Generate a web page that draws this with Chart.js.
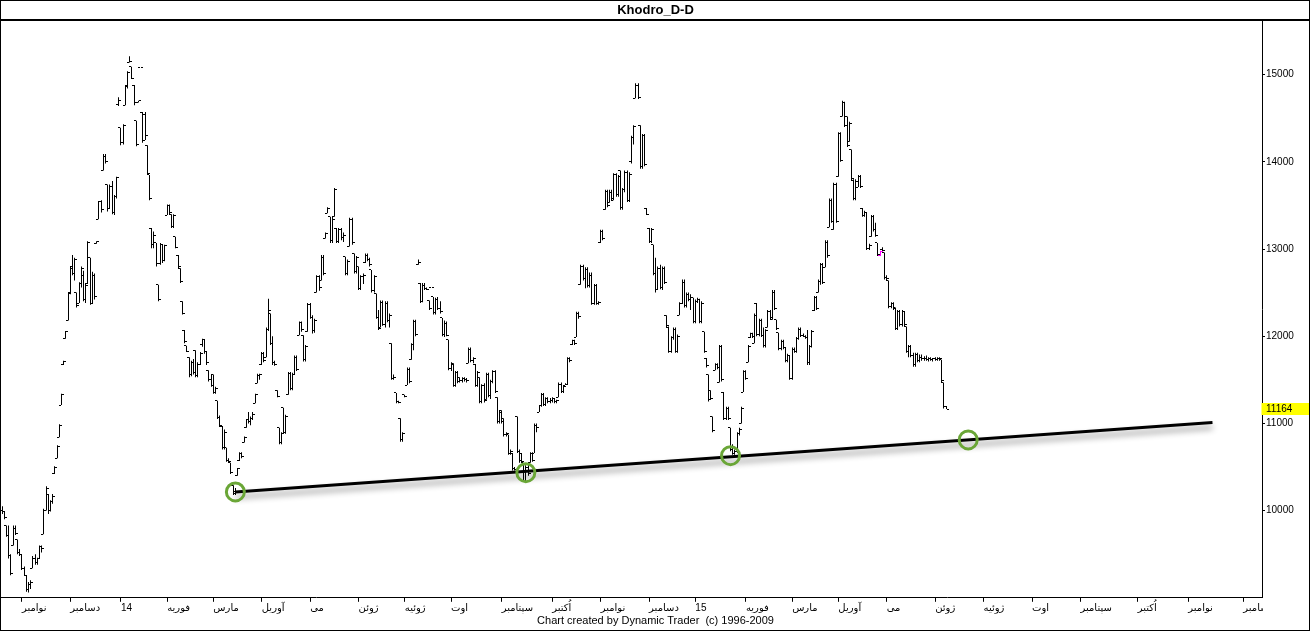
<!DOCTYPE html>
<html>
<head>
<meta charset="utf-8">
<title>Khodro_D-D</title>
<script src="https://cdn.jsdelivr.net/npm/chart.js@4.4.1/dist/chart.umd.min.js"></script>
<style>
    html, body { margin: 0; padding: 0; background: #fff; }
    #wrap { width: 1310px; height: 631px; position: relative; }
</style>
</head>
<body>
<div id="wrap"><canvas id="chart"></canvas></div>
<script>
// Daily bars, Khodro (one value per trading day, index 0 = first bar)
const openPrices = [
    10000,9990,9830,9720,9480,9600,9800,9670,9520,9500,
    9340,9260,9100,9150,9340,9450,9400,9450,9590,9730,
    10000,10190,10000,10100,10420,10600,10840,11210,11670,11970,
    12180,12500,12800,12720,12500,12380,12600,12700,12420,12600,
    12900,12380,12700,13060,13340,13540,13900,14060,13740,13460,
    13720,13420,13600,14660,14390,14220,14650,14870,15140,15090,
    14880,14470,14680,15080,14570,14540,14190,13850,13240,13050,
    13070,12590,12830,13050,12870,13390,13500,13400,13260,13140,
    12930,12780,12400,12070,11890,11760,11560,11700,11840,11550,
    11680,11900,11960,11820,11610,11500,11560,11360,11260,11070,
    10970,10720,10720,10580,10550,10290,10220,10400,10570,10660,
    10780,10950,11040,11020,11060,11230,11460,11550,11670,11800,
    11760,12080,12260,11920,11700,11380,10950,10780,11180,10900,
    11330,11570,11400,11560,11760,12010,12160,12010,11730,12050,
    12360,12220,12060,12500,12680,12640,12900,13120,13410,13370,
    13100,13370,13240,13090,13220,13130,12910,12720,13030,13340,
    12950,12740,12800,12550,12680,12840,12930,12880,12760,12520,
    12490,12220,12100,12390,12140,12380,12180,11920,11520,11350,
    11250,11060,10810,11330,11440,11620,11730,11900,12170,12820,
    12610,12400,12580,12550,12410,12560,12450,12270,12420,12320,
    12210,12020,12150,11960,11630,11690,11440,11580,11530,11490,
    11510,11500,11690,11850,11720,11680,11440,11530,11250,11430,
    11270,11560,11320,11480,11600,11300,11020,11150,11060,10870,
    10870,10660,10660,10480,11080,10680,10660,10550,10350,10500,
    10550,10650,10660,10980,11130,11200,11330,11220,11280,11250,
    11260,11280,11250,11300,11450,11370,11440,11450,11740,11900,
    11950,11990,12260,12590,12800,12660,12770,12580,12700,12380,
    12580,12380,13070,13200,13450,13660,13530,13650,13560,13850,
    13620,13900,13480,13680,13880,13560,14000,14280,14730,14880,
    14420,13950,14300,13470,13240,13090,13050,12720,12530,12780,
    12560,12780,12240,12100,11830,11980,12080,11830,12240,12380,
    12620,12350,12480,12420,12440,12170,12400,12420,12170,12050,
    11750,11560,11380,11080,11610,11670,11470,11880,11360,11060,
    11170,10950,10700,10660,10680,10880,11000,11360,11590,11700,
    11980,12030,11920,12380,12020,12180,12010,11890,12100,12280,
    12190,12500,12190,12040,11860,11940,11870,11720,11780,11520,
    11850,11830,11970,12080,12010,12000,11990,11700,11880,12290,
    12440,12500,12630,12820,12790,13080,13250,13560,13220,13740,
    13830,14320,14520,14680,14520,14230,14140,13790,13580,13710,
    13830,13470,13390,13420,13010,13140,13370,13220,13070,12930,
    13000,12960,12670,12640,12340,12380,12330,12090,12280,12130,
    12280,12110,11830,11880,11780,11670,11790,11720,11760,11740,
    11750,11730,11740,11730,11740,11730,11750,11730,11470,11190
];
const highPrices = [
    10050,9990,9830,9830,9500,9830,9830,9670,9560,9500,
    9360,9260,9180,9200,9480,9500,9460,9600,9600,10020,
    10280,10190,10120,10190,10510,10750,10990,11340,11720,12060,
    12500,12800,12930,12900,12500,12620,12800,12750,12600,13090,
    12900,12740,12720,13090,13550,13560,14090,14090,13740,13740,
    13780,13620,13830,14740,14390,14430,14870,15040,15210,15090,
    14880,14470,14700,15080,14570,14570,14190,13850,13240,13200,
    13070,12590,13070,13050,13050,13510,13510,13400,13400,13140,
    12930,12780,12400,12070,11890,11760,11720,11740,11840,11700,
    11820,11970,11960,11830,11610,11560,11560,11420,11260,11090,
    10970,10930,10720,10600,10550,10290,10260,10490,10670,10670,
    10850,11050,11130,11080,11130,11340,11570,11570,11820,11820,
    12100,12430,12260,12000,11720,11380,10950,10900,11180,11100,
    11590,11590,11580,11780,11780,12170,12170,12010,11900,12380,
    12380,12240,12200,12700,12700,12930,12930,13190,13480,13370,
    13370,13700,13240,13240,13240,13190,12910,12880,13360,13360,
    12950,12920,12800,12700,12720,12950,12950,12900,12760,12700,
    12490,12300,12410,12410,12400,12400,12260,11920,11560,11350,
    11260,11060,10900,11330,11640,11640,11920,12190,12190,12880,
    12610,12610,12610,12560,12410,12560,12450,12440,12450,12400,
    12210,12180,12170,11960,11700,11690,11600,11600,11530,11530,
    11530,11520,11870,11870,11760,11680,11600,11530,11450,11460,
    11580,11580,11500,11610,11610,11300,11150,11150,11060,10900,
    10870,10700,10660,10500,11080,10700,10660,10550,10520,10550,
    10670,10670,11000,11000,11210,11350,11350,11300,11300,11290,
    11300,11280,11270,11470,11470,11440,11460,11760,11760,11960,
    11960,12280,12280,12820,12820,12790,12790,12730,12730,12600,
    12600,12400,13220,13220,13680,13680,13680,13680,13870,13870,
    13850,13900,13700,13900,13900,13880,14300,14420,14900,14900,
    14420,14320,14320,13470,13240,13240,13050,12900,12800,12820,
    12800,12800,12240,12110,12000,12100,12100,12020,12390,12650,
    12650,12500,12500,12480,12440,12420,12440,12430,12400,12050,
    11750,11560,11380,11080,11690,11690,11900,11900,11360,11190,
    11190,10950,10760,10700,10900,10950,11190,11610,11610,11900,
    12040,12040,12260,12380,12200,12200,12100,12080,12300,12300,
    12530,12530,12190,12040,11960,11960,11870,11800,11780,11870,
    11870,11990,12100,12100,12030,12010,12070,11900,12070,12460,
    12460,12650,12840,12840,13100,13100,13580,13580,13760,13760,
    14340,14340,14700,14690,14520,14460,14140,13800,13800,13850,
    13850,13470,13440,13420,13060,13390,13390,13300,13070,12980,
    13020,12960,12700,12640,12390,12390,12330,12300,12300,12300,
    12290,12110,11900,11900,11810,11810,11810,11790,11790,11770,
    11780,11760,11760,11750,11760,11760,11760,11730,11470,11200
];
const lowPrices = [
    9960,9900,9700,9450,9260,9600,9720,9500,9480,9320,
    9250,9070,9060,9100,9340,9380,9380,9450,9520,9730,
    10000,9960,9990,10080,10420,10600,10840,11210,11670,11970,
    12180,12480,12700,12640,12330,12380,12560,12400,12380,12600,
    12360,12380,12420,13060,13340,13420,13900,13980,13430,13460,
    13400,13390,13580,14640,14190,14200,14650,14840,15140,14950,
    14650,14180,14680,15080,14220,14250,13850,13560,13010,13010,
    12800,12400,12820,12840,12860,13390,13400,13240,13240,13010,
    12780,12610,12250,11920,11820,11530,11540,11560,11530,11530,
    11670,11880,11800,11670,11480,11420,11340,11340,11050,10960,
    10700,10700,10560,10550,10420,10180,10180,10400,10570,10600,
    10780,10950,11000,10980,11040,11230,11460,11500,11670,11700,
    11760,12060,11900,11670,11660,11300,10760,10760,10880,10880,
    11330,11380,11380,11560,11600,12010,12050,11710,11710,12050,
    12200,12030,12040,12500,12520,12640,12700,13120,13410,13070,
    13070,13370,13070,13070,13100,13080,12700,12700,13030,13050,
    12720,12720,12530,12530,12600,12840,12860,12800,12500,12500,
    12200,12070,12100,12120,12100,12160,12100,11500,11500,11230,
    11230,10790,10790,11300,11440,11460,11730,11840,12000,12820,
    12380,12390,12530,12530,12300,12560,12250,12250,12300,12260,
    12000,11990,12000,11610,11600,11420,11420,11460,11470,11470,
    11480,11470,11690,11700,11690,11420,11420,11230,11230,11240,
    11270,11300,11280,11460,11350,11000,11000,11000,10850,10850,
    10640,10640,10460,10460,10660,10550,10550,10330,10330,10400,
    10550,10560,10660,10900,11130,11190,11200,11200,11230,11230,
    11240,11230,11230,11300,11350,11350,11440,11440,11700,11900,
    11900,11990,12200,12590,12640,12550,12560,12560,12360,12360,
    12360,12360,13070,13100,13450,13480,13530,13560,13560,13600,
    13600,13450,13450,13650,13540,13540,13980,14200,14730,14720,
    13920,13920,13950,13390,13070,13070,12700,12500,12530,12540,
    12530,12600,12100,11810,11810,11960,11810,11810,12240,12370,
    12330,12330,12400,12300,12150,12150,12380,12150,12150,11810,
    11640,11250,11270,10900,11610,11620,11470,11480,11040,11040,
    11040,10680,10640,10640,10660,10860,11000,11360,11500,11700,
    11980,11980,11920,12000,12000,11990,11870,11870,12100,12190,
    12190,12300,12070,11840,11840,11850,11700,11700,11500,11500,
    11810,11810,11960,11990,11990,11970,11670,11670,11870,12290,
    12300,12500,12590,12600,12790,12900,13250,13300,13220,13300,
    13830,14000,14520,14400,14170,14230,13790,13560,13560,13710,
    13700,13370,13370,12990,12990,13140,13200,13140,12920,12920,
    12960,12650,12640,12320,12320,12300,12070,12070,12110,12110,
    12110,11810,11760,11760,11650,11650,11700,11700,11720,11720,
    11720,11710,11720,11710,11720,11720,11720,11470,11170,11164
];
const closePrices = [
    9990,9920,9720,9480,9280,9800,9740,9520,9500,9340,
    9260,9100,9150,9180,9450,9400,9450,9590,9560,10000,
    10250,10000,10100,10160,10500,10740,10980,11330,11710,12050,
    12490,12780,12720,12880,12350,12600,12780,12420,12580,13080,
    12380,12700,12450,13090,13540,13450,14060,14000,13460,13720,
    13420,13600,13820,14700,14220,14420,14860,15020,15150,14960,
    14680,14200,14700,15080,14240,14300,13870,13580,13050,13150,
    12830,12420,13050,12870,13040,13500,13420,13260,13380,13020,
    12800,12630,12260,11940,11830,11560,11700,11580,11550,11680,
    11800,11960,11820,11700,11500,11440,11360,11400,11070,10980,
    10720,10900,10580,10560,10440,10200,10210,10480,10660,10620,
    10840,11040,11020,11060,11100,11330,11550,11560,11800,11720,
    12080,12300,11920,11700,11680,11310,10780,10880,10900,11080,
    11570,11400,11560,11760,11620,12160,12080,11730,11880,12360,
    12220,12060,12180,12680,12560,12900,12720,13180,13470,13100,
    13340,13680,13090,13220,13130,13160,12720,12860,13340,13070,
    12740,12900,12550,12680,12700,12930,12880,12820,12520,12680,
    12220,12090,12390,12140,12380,12180,12240,11520,11530,11250,
    11240,10810,10880,11310,11620,11480,11900,12170,12020,12840,
    12400,12580,12550,12540,12320,12560,12270,12420,12320,12280,
    12020,12150,12010,11630,11680,11440,11580,11480,11490,11510,
    11500,11490,11850,11720,11740,11440,11580,11250,11430,11260,
    11560,11320,11480,11600,11370,11020,11130,11020,10870,10880,
    10660,10680,10480,10470,10680,10570,10560,10350,10500,10420,
    10650,10580,10980,10950,11200,11330,11220,11280,11250,11260,
    11280,11250,11260,11450,11370,11420,11450,11740,11720,11950,
    11920,12260,12230,12800,12660,12770,12580,12700,12380,12580,
    12380,12390,13200,13120,13660,13500,13650,13580,13850,13620,
    13830,13480,13680,13880,13560,13860,14280,14400,14880,14740,
    13950,14300,13970,13400,13090,13220,12720,12530,12780,12560,
    12780,12620,12120,11830,11980,12080,11830,12000,12380,12620,
    12350,12480,12420,12440,12170,12400,12420,12170,12380,11830,
    11660,11270,11290,10920,11670,11640,11880,11500,11060,11170,
    11060,10700,10660,10680,10880,10930,11170,11590,11520,11880,
    12030,12000,12240,12020,12180,12010,11890,12060,12280,12210,
    12500,12320,12090,11860,11940,11870,11720,11780,11520,11850,
    11830,11970,12080,12010,12000,11990,11700,11880,12050,12440,
    12320,12630,12820,12620,13080,12920,13560,13320,13740,13320,
    14320,14020,14680,14420,14190,14440,13810,13580,13780,13830,
    13720,13390,13420,13010,13040,13370,13220,13160,12940,12970,
    12980,12670,12660,12340,12380,12320,12090,12280,12130,12280,
    12130,11830,11880,11780,11670,11790,11720,11760,11740,11750,
    11730,11740,11730,11740,11730,11750,11740,11490,11190,11164
];

// the one bar drawn in magenta in the original
const highlightBar = 399;

// axis slots (bars + empty future days) and month starts
const totalSlots = 573;
const monthLabels = ['نوامبر', 'دسامبر', '14', 'فوریه', 'مارس', 'آوریل', 'می', 'ژوئن', 'ژوئیه', 'اوت', 'سپتامبر', 'اُکتبر',
    'نوامبر', 'دسامبر', '15', 'فوریه', 'مارس', 'آوریل', 'می', 'ژوئن', 'ژوئیه', 'اوت', 'سپتامبر', 'اُکتبر', 'نوامبر', 'دسامبر'];
const monthStarts = [9, 31, 54, 75, 96, 118, 140, 162, 183, 204, 227, 250, 272, 294, 315, 338, 359, 380, 402, 424, 446, 468, 490, 516, 539, 564];

const yTicks = [10000, 11000, 12000, 13000, 14000, 15000];
const yMin = 9000;
const yMax = 15615;

// trendline and the touch points
const trendIdx = [106, 550];
const trendPrices = [10214, 11010];
const touchIdx = [106, 238, 331, 439];
const touchPrices = [10214, 10435, 10630, 10811];

const FONT = 'Tahoma, "Liberation Sans", "DejaVu Sans", sans-serif';

if (openPrices.length !== closePrices.length || highPrices.length !== lowPrices.length || openPrices.length !== highPrices.length) {
    throw new Error('OHLC length mismatch ' + [openPrices.length, highPrices.length, lowPrices.length, closePrices.length].join(','));
}

// small tick images for open (left) and close (right)
function makeTick(side, color) {
    const c = document.createElement('canvas');
    c.width = 5;
    c.height = 1;
    const g = c.getContext('2d');
    g.fillStyle = color;
    g.fillRect(side === 'left' ? 0 : 3, 0, 2, 1);
    return c;
}
const openTick = makeTick('left', '#000');
const closeTick = makeTick('right', '#000');
const openTickHi = makeTick('left', '#ff00ff');
const closeTickHi = makeTick('right', '#ff00ff');

// put bars and ticks on whole pixels so they stay sharp
const pixelSnap = {
    id: 'pixelSnap',
    beforeDatasetsDraw(chart) {
        chart.data.datasets.forEach((ds, di) => {
            if (!ds.snap) return;
            chart.getDatasetMeta(di).data.forEach(el => {
                el.x = Math.floor(el.x) + 0.5;
                if (ds.type !== 'bar') el.y = Math.floor(el.y) + 0.5;
            });
        });
    }
};

// drop shadow under the trendline
const trendShadow = {
    id: 'trendShadow',
    beforeDatasetDraw(chart, args) {
        if (!chart.data.datasets[args.index].shadow) return;
        const ctx = chart.ctx;
        ctx.save();
        ctx.shadowColor = 'rgba(0,0,0,0.45)';
        ctx.shadowBlur = 6;
        ctx.shadowOffsetY = 5;
    },
    afterDatasetDraw(chart, args) {
        if (!chart.data.datasets[args.index].shadow) return;
        chart.ctx.restore();
    }
};

// frame lines, last price tag
const frame = {
    id: 'frame',
    afterDraw(chart) {
        const { ctx, chartArea, width, height } = chart;
        const y = chart.scales.y;
        ctx.save();

        // hide month label overflow past the price axis
        ctx.fillStyle = '#fff';
        ctx.fillRect(chartArea.right + 1, chartArea.bottom + 1, width - chartArea.right - 2, chart.scales.x.bottom - chartArea.bottom - 1);

        ctx.strokeStyle = '#000';
        ctx.lineWidth = 1;
        ctx.strokeRect(0.5, 0.5, width - 1, height - 1);
        ctx.lineWidth = 2;
        ctx.beginPath();
        ctx.moveTo(0, chartArea.top - 1);
        ctx.lineTo(width, chartArea.top - 1);
        ctx.stroke();

        const last = closePrices[closePrices.length - 1];
        const py = y.getPixelForValue(last);
        ctx.fillStyle = '#ffff00';
        ctx.fillRect(chartArea.right - 0.5, Math.round(py) - 6, width - chartArea.right - 0.5, 12);
        ctx.fillStyle = '#000';
        ctx.font = '10px ' + FONT;
        ctx.textBaseline = 'middle';
        ctx.textAlign = 'left';
        ctx.fillText(String(last), chartArea.right + 4, Math.round(py));
        ctx.restore();
    }
};

const labels = Array.from({ length: totalSlots }, (_, i) => i);
const rangeBars = lowPrices.map((low, i) => [low, highPrices[i]]);

new Chart(document.getElementById('chart'), {
    data: {
        labels: labels,
        datasets: [
            {
                type: 'line',
                data: touchIdx.map((x, i) => ({ x: x, y: touchPrices[i] })),
                showLine: false,
                pointRadius: 9,
                pointBorderWidth: 3,
                pointBorderColor: '#6aa637',
                pointBackgroundColor: 'rgba(0,0,0,0)',
                order: 0
            },
            {
                type: 'line',
                shadow: true,
                data: trendIdx.map((x, i) => ({ x: x, y: trendPrices[i] })),
                borderColor: '#000',
                borderWidth: 3,
                pointRadius: 0,
                order: 1
            },
            {
                type: 'line',
                snap: true,
                data: openPrices,
                showLine: false,
                pointRadius: 1,
                pointStyle: ctx => ctx.dataIndex === highlightBar ? openTickHi : openTick,
                order: 2
            },
            {
                type: 'line',
                snap: true,
                data: closePrices,
                showLine: false,
                pointRadius: 1,
                pointStyle: ctx => ctx.dataIndex === highlightBar ? closeTickHi : closeTick,
                order: 2
            },
            {
                type: 'bar',
                snap: true,
                data: rangeBars,
                barThickness: 1,
                inflateAmount: 0,
                borderWidth: 0,
                backgroundColor: ctx => ctx.dataIndex === highlightBar ? '#ff00ff' : '#000',
                order: 3
            }
        ]
    },
    options: {
        responsive: true,
        maintainAspectRatio: false,
        animation: false,
        events: [],
        layout: { autoPadding: false, padding: { left: 1, right: 0, top: 0, bottom: 0 } },
        plugins: {
            legend: { display: false },
            tooltip: { enabled: false },
            title: {
                display: true,
                text: 'Khodro_D-D',
                color: '#000',
                font: { family: FONT, size: 13, weight: 'bold' },
                padding: { top: 3, bottom: 2.4 }
            },
            subtitle: {
                display: true,
                position: 'bottom',
                text: 'Chart created by Dynamic Trader  (c) 1996-2009',
                color: '#000',
                font: { family: FONT, size: 11 },
                padding: { top: 1, bottom: 3 }
            }
        },
        scales: {
            x: {
                type: 'category',
                offset: true,
                afterBuildTicks: s => { s.ticks = monthStarts.map(v => ({ value: v })); },
                afterFit: s => {
                    s.height = 16;
                    s.paddingLeft = 0;
                    s.paddingRight = 0;
                },
                border: { color: '#000', width: 1 },
                grid: {
                    offset: false,
                    drawOnChartArea: false,
                    tickLength: 4,
                    color: '#000'
                },
                ticks: {
                    autoSkip: false,
                    maxRotation: 0,
                    minRotation: 0,
                    align: 'start',
                    padding: 0,
                    color: '#000',
                    font: { family: FONT, size: 10 },
                    callback: v => monthLabels[monthStarts.indexOf(v)]
                }
            },
            y: {
                position: 'right',
                min: yMin,
                max: yMax,
                afterBuildTicks: s => { s.ticks = yTicks.map(v => ({ value: v })); },
                afterFit: s => {
                    s.width = 48;
                    s.paddingTop = 0;
                    s.paddingBottom = 0;
                },
                border: { color: '#000', width: 1 },
                grid: { drawOnChartArea: false, tickLength: 3, color: '#000' },
                ticks: {
                    padding: 1,
                    color: '#000',
                    font: { family: FONT, size: 10 },
                    callback: v => String(v)
                }
            }
        }
    },
    plugins: [pixelSnap, trendShadow, frame]
});
</script>
</body>
</html>
